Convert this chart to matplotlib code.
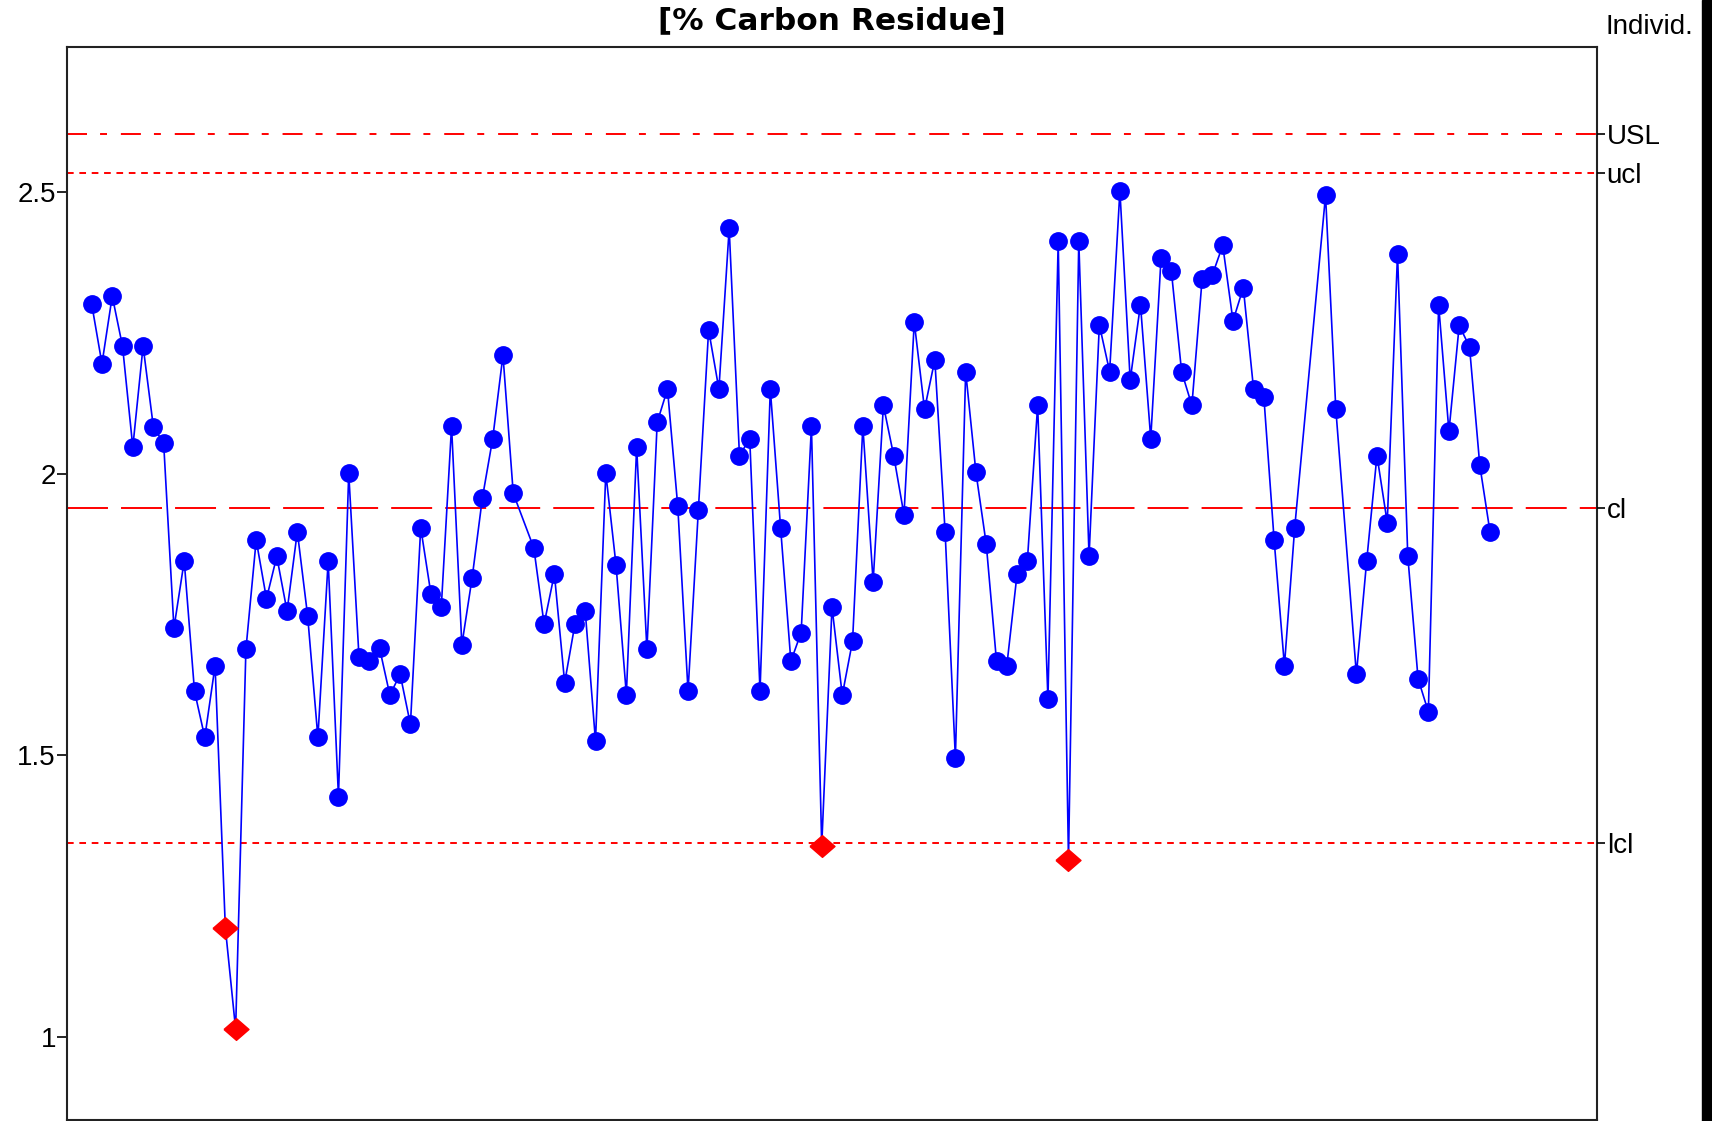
import numpy as np
import matplotlib
matplotlib.use("Agg")
import matplotlib.pyplot as plt
from matplotlib.patches import Rectangle

plt.rcParams['font.family'] = ['Liberation Sans', 'DejaVu Sans']
plt.rcParams['lines.scale_dashes'] = False

title = "[% Carbon Residue]"
chart_kind = "Individ."

# individual measurements, None = sample not shown on the chart
values = [
    2.301, 2.195, 2.315, 2.226, 2.047, 2.226, 2.083, 2.054, 1.726, 1.845,
    1.614, 1.532, 1.659, 1.194, 1.014, 1.688, 1.882, 1.778, 1.853, 1.756,
    1.897, 1.748, 1.532, 1.845, 1.427, 2.001, 1.674, 1.667, 1.690, 1.607,
    1.644, 1.555, 1.904, 1.786, 1.763, 2.084, 1.696, 1.815, 1.957, 2.062,
    2.210, 1.965, None, 1.868, 1.733, 1.822, 1.629, 1.733, 1.756, 1.525,
    2.001, 1.837, 1.608, 2.047, 1.688, 2.091, 2.150, 1.942, 1.614, 1.935,
    2.255, 2.150, 2.435, 2.032, 2.062, 1.614, 2.150, 1.904, 1.667, 1.718,
    2.084, 1.340, 1.763, 1.607, 1.703, 2.084, 1.808, 2.121, 2.032, 1.927,
    2.269, 2.114, 2.202, 1.897, 1.495, 2.181, 2.002, 1.875, 1.667, 1.659,
    1.822, 1.845, 2.121, 1.600, 2.413, 1.314, 2.413, 1.853, 2.264, 2.181,
    2.502, 2.166, 2.300, 2.062, 2.382, 2.360, 2.181, 2.121, 2.346, 2.353,
    2.405, 2.271, 2.330, 2.150, 2.136, 1.882, 1.659, 1.904, None, None,
    2.494, 2.114, None, 1.644, 1.845, 2.032, 1.913, 2.390, 1.853, 1.636,
    1.577, 2.299, 2.075, 2.263, 2.225, 2.015, 1.896,
]

usl = 2.602
ucl = 2.534
cl = 1.939
lcl = 1.344
limit_values = [usl, ucl, cl, lcl]
limit_names = ["USL", "ucl", "cl", "lcl"]

y_ticks = [1, 1.5, 2, 2.5]
y_tick_labels = ["1", "1.5", "2", "2.5"]

y = np.array([np.nan if v is None else v for v in values])
x = np.arange(len(y))
ok = ~np.isnan(y)
xs, ys = x[ok], y[ok]
out = (ys < lcl) | (ys > ucl)

W, H = 1712, 1121
fig = plt.figure(figsize=(W / 100, H / 100), dpi=100)
ax = fig.add_axes([67 / W, 1 - 1120 / H, (1597 - 67) / W, (1120 - 47) / H])

red = '#ff0000'
blue = '#0000ff'
ax.axhline(usl, color=red, lw=1.4, ls=(0, (14.4, 9.4, 5.0, 10.0)), zorder=1)
ax.axhline(ucl, color=red, lw=1.4, ls=(0, (4.8, 4.1)), zorder=1)
ax.axhline(cl, color=red, lw=1.4, ls=(0, (29.5, 9.4)), zorder=1)
ax.axhline(lcl, color=red, lw=1.4, ls=(0, (4.8, 4.1)), zorder=1)

ax.plot(xs, ys, color=blue, lw=1.2, zorder=2)
ax.plot(xs[~out], ys[~out], 'o', color=blue, ms=12.5, mec=blue, zorder=3)
diamond = [(-1.15, 0), (0, 1), (1.15, 0), (0, -1), (-1.15, 0)]
ax.plot(xs[out], ys[out], ls='none', marker=diamond, color=red, ms=18, zorder=4)

ax.set_xlim(-2.4, 146.4)
ax.set_ylim(0.853, 2.757)
ax.set_xticks([])
ax.set_yticks(y_ticks, y_tick_labels)
ax.tick_params(axis='y', length=7, width=1.2, pad=1, labelsize=20, color='black')
for s in ax.spines.values():
    s.set_linewidth(1.5)
    s.set_color('#222222')

ax2 = ax.twinx()
ax2.set_ylim(ax.get_ylim())
ax2.set_yticks(limit_values, limit_names)
ax2.tick_params(axis='y', length=6, width=1.2, pad=1, labelsize=20)
for s in ax2.spines.values():
    s.set_visible(False)

fig.text((67 + 1597) / 2 / W, 1 - 29 / H, title, ha='center', va='baseline',
         fontsize=22.5, fontweight='bold', family='DejaVu Sans')
fig.text(1606 / W, 1 - 34 / H, chart_kind, ha='left', va='baseline', fontsize=20)

fig.add_artist(Rectangle((1702 / W, 0), 10 / W, 1, transform=fig.transFigure,
                         color='black'))

fig.savefig('out.png', dpi=100)
